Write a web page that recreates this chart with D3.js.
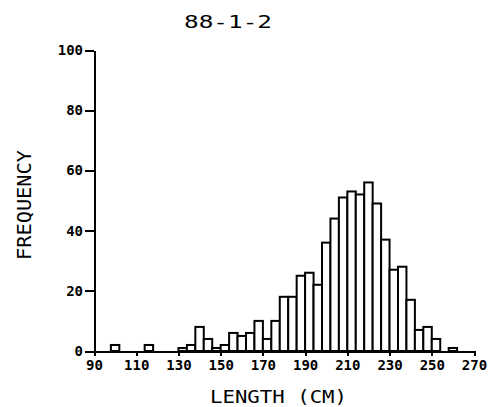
<!DOCTYPE html>
<html lang="en">
<head>
<meta charset="UTF-8">
<title>88-1-2</title>
<script src="https://d3js.org/d3.v7.min.js"></script>
</head>
<style type="text/css">
body{margin:0;background:#fff;}
.axis path,
.axis line{
fill:none;
stroke:black;
stroke-width:2px;
shape-rendering:crispEdges;
}
.axis text{
font-family:"DejaVu Sans Mono",monospace;
font-size:14px;
font-weight:bold;
fill:black;
}
.bar{
fill:white;
stroke:black;
stroke-width:2px;
}
.title{
font-family:"DejaVu Sans Mono",monospace;
fill:black;
}
</style>
<body>
<div id="chart"></div>
<script>
// bin lower edges (cm), bin width 4
var binStarts = [90,94,98,102,106,110,114,118,122,126,130,134,138,142,146,150,154,158,162,166,
                 170,174,178,182,186,190,194,198,202,206,210,214,218,222,226,230,234,238,242,246,
                 250,254,258,262,266];
var binWidth = 4;
// frequency in each bin
var counts = [0,0,2,0,0,0,2,0,0,0,1,2,8,4,1,2,6,5,6,10,
              4,10,18,18,25,26,22,36,44,51,53,52,56,49,37,27,28,17,7,8,
              4,0,1,0,0];
var xTicks = [90,110,130,150,170,190,210,230,250,270];
var yTicks = [0,20,40,60,80,100];

var width = 491;
var height = 407;
var svg = d3.select("#chart")
    .append("svg")
    .attr("width",width)
    .attr("height",height);

var xScale = d3.scaleLinear().domain([90,270]).range([94,474]);
var yScale = d3.scaleLinear().domain([0,100]).range([351,50]);

var data = binStarts.map(function(s,i){ return {x0:s,x1:s+binWidth,n:counts[i]}; });

// bars
svg.selectAll("rect.bar")
    .data(data.filter(function(d){ return d.n>0; }))
    .enter()
    .append("rect")
    .attr("class","bar")
    .attr("x",function(d){ return xScale(d.x0); })
    .attr("width",function(d){ return xScale(d.x1)-xScale(d.x0); })
    .attr("y",function(d){ return yScale(d.n); })
    .attr("height",function(d){ return yScale(0)-yScale(d.n); });

// axes
var xAxis = d3.axisBottom(xScale).tickValues(xTicks).tickSize(5).tickSizeOuter(0).tickPadding(4);
var yAxis = d3.axisLeft(yScale).tickValues(yTicks).tickSize(9).tickSizeOuter(0).tickPadding(2);

svg.append("g")
    .attr("class","axis")
    .attr("transform","translate(0,"+yScale(0)+")")
    .call(xAxis);

svg.append("g")
    .attr("class","axis")
    .attr("transform","translate("+xScale(90)+",0)")
    .call(yAxis);

// titles (plotter lettering is wide, so stretch glyphs to the measured length)
svg.append("text")
    .attr("class","title")
    .attr("x",184)
    .attr("y",28)
    .attr("textLength",88)
    .attr("lengthAdjust","spacingAndGlyphs")
    .style("font-size","18px")
    .text("88-1-2");

svg.append("text")
    .attr("class","title")
    .attr("x",210)
    .attr("y",403)
    .attr("textLength",137)
    .attr("lengthAdjust","spacingAndGlyphs")
    .style("font-size","18px")
    .text("LENGTH (CM)");

svg.append("text")
    .attr("class","title")
    .attr("transform","translate(31,260) rotate(-90)")
    .attr("textLength",110)
    .attr("lengthAdjust","spacingAndGlyphs")
    .style("font-size","20px")
    .text("FREQUENCY");
</script>
</body>
</html>
